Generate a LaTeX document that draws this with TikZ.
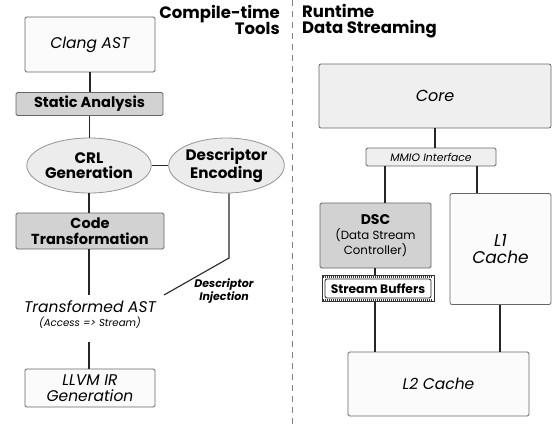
\documentclass[tikz,border=0pt]{standalone}
\usepackage{fontspec}
\setmainfont{Poppins}
\usetikzlibrary{shapes.geometric}
\definecolor{boxline}{HTML}{666666}
\definecolor{darkfill}{HTML}{D2D2D2}
\definecolor{lightfill}{HTML}{EFEFEF}
\definecolor{whitefill}{HTML}{FBFBFB}
\definecolor{ellfill}{HTML}{ECECEC}
\begin{document}
\begin{tikzpicture}[x=1pt,y=-1pt,
  conn/.style={line width=1.1pt, draw=black!85},
  plainbox/.style={draw=boxline, line width=0.8pt, fill=whitefill, rounded corners=1.5pt, inner sep=0pt, align=center, font=\fontsize{15.5}{16}\selectfont\itshape},
  darkbox/.style={draw=boxline, line width=0.8pt, fill=darkfill, rounded corners=1.5pt, inner sep=0pt, align=center, font=\fontsize{14.5}{15.5}\selectfont\bfseries},
  lightbox/.style={draw=boxline, line width=0.8pt, fill=lightfill, rounded corners=2pt, inner sep=0pt, align=center, font=\fontsize{16}{16}\selectfont\itshape},
  ell/.style={ellipse, draw=boxline!70, line width=0.8pt, fill=ellfill, inner sep=0pt, align=center, font=\fontsize{15.2}{15.5}\selectfont\bfseries},
  header/.style={font=\fontsize{16.5}{16}\selectfont\bfseries, inner sep=0pt}
]
\useasboundingbox (0,0) rectangle (553,426);

% headers
\node[header, anchor=base east] (h1) at (280,18) {Compile-time};
\node[header, anchor=base east] (h2) at (280,34) {Tools};
\node[header, anchor=base west] (h3) at (302,17) {Runtime};
\node[header, anchor=base west] (h4) at (302,33) {Data Streaming};
\coordinate (dtop) at (292,0);
\coordinate (dbot) at (292,426);
\draw[draw=black!50, line width=1pt, dash pattern=on 6pt off 5pt] (dtop) -- (dbot);

% left column
\node[plainbox, minimum width=130pt, minimum height=55pt] (clang) at (90,44.5) {Clang AST};
\node[darkbox, minimum width=147pt, minimum height=23pt] (static) at (89.5,104) {Static Analysis};
\node[ell, minimum width=112pt, minimum height=55pt] (crl) at (89,165.5) {CRL\\Generation};
\node[ell, minimum width=107pt, minimum height=55pt] (desc) at (226.5,165.5) {Descriptor\\Encoding};
\node[darkbox, minimum width=148pt, minimum height=36pt] (code) at (90,231) {Code\\Transformation};
\node[font=\fontsize{15.5}{15}\selectfont\itshape, inner sep=2pt] (tast) at (90,307) {Transformed AST};
\node[font=\fontsize{10.2}{12}\selectfont\itshape, inner sep=2pt] (tsub) at (90,323) {(Access => Stream)};
\node[plainbox, minimum width=130pt, minimum height=38pt] (llvm) at (90,388) {LLVM IR\\Generation};
\node[font=\fontsize{11}{13}\selectfont\bfseries\itshape, align=center, inner sep=0pt] (inj) at (224,291) {Descriptor\\Injection};

\draw[conn] (clang.south) -- (clang.south |- static.north);
\draw[conn] (static.south) -- (static.south |- crl.north);
\draw[conn] (crl.east) -- (desc.west);
\draw[conn] (crl.south) -- (crl.south |- code.north);
\coordinate (tin) at (89,295);
\draw[conn] (code.south -| tin) -- (tin);
\coordinate (tout) at (89,342);
\draw[conn] (tout) -- (tout |- llvm.north);
\coordinate (bend) at (229,258);
\coordinate (injend) at (164,295);
\draw[conn] (desc.south -| bend) -- (bend) -- (injend);

% right column
\node[lightbox, minimum width=232pt, minimum height=64pt] (core) at (435,96) {Core};
\node[lightbox, rounded corners=1.5pt, minimum width=130pt, minimum height=18pt, font=\fontsize{10.8}{12}\selectfont\itshape] (mmio) at (431,157) {MMIO Interface};
\node[darkbox, minimum width=111pt, minimum height=65pt, font=\fontsize{11.8}{15}\selectfont] (dsc) at (375.5,235.5) {{\fontsize{14}{15}\selectfont\bfseries DSC}\\(Data Stream\\Controller)};
\node[lightbox, fill=whitefill, minimum width=101pt, minimum height=111pt, font=\fontsize{17}{17.5}\selectfont\itshape] (l1) at (500.5,249) {L1\\Cache};
\node[plainbox, minimum width=181pt, minimum height=64pt] (l2) at (438.5,384) {L2 Cache};

% stream buffers (film-strip border)
\node[draw=black!80, line width=0.6pt, fill=white, minimum width=112pt, minimum height=26pt, inner sep=0pt] (sb) at (378,288.5) {};
\draw[black!80, line width=2.6pt, dash pattern=on 0.7pt off 1.3pt] ([xshift=1.5pt,yshift=-1.8pt]sb.north west) -- ([xshift=-1.5pt,yshift=-1.8pt]sb.north east);
\draw[black!80, line width=2.6pt, dash pattern=on 0.7pt off 1.3pt] ([xshift=1.5pt,yshift=1.8pt]sb.south west) -- ([xshift=-1.5pt,yshift=1.8pt]sb.south east);
\node[draw=black!85, line width=0.8pt, fill=white, rounded corners=2pt, minimum width=106pt, minimum height=19pt, inner sep=0pt, font=\fontsize{12.3}{13}\selectfont\bfseries] (sbin) at (sb.center) {Stream Buffers};

\draw[conn] (core.south) -- (core.south |- mmio.north);
\coordinate (xa) at (385,0);
\coordinate (xb) at (477,0);
\coordinate (xc) at (375,0);
\coordinate (xd) at (500,0);
\draw[conn] (mmio.south -| xa) -- (dsc.north -| xa);
\draw[conn] (mmio.south -| xb) -- (l1.north -| xb);
\draw[conn] (dsc.south -| xc) -- (sb.north -| xc);
\draw[conn] (sb.south -| xc) -- (l2.north -| xc);
\draw[conn] (l1.south -| xd) -- (l2.north -| xd);
\end{tikzpicture}
\end{document}
